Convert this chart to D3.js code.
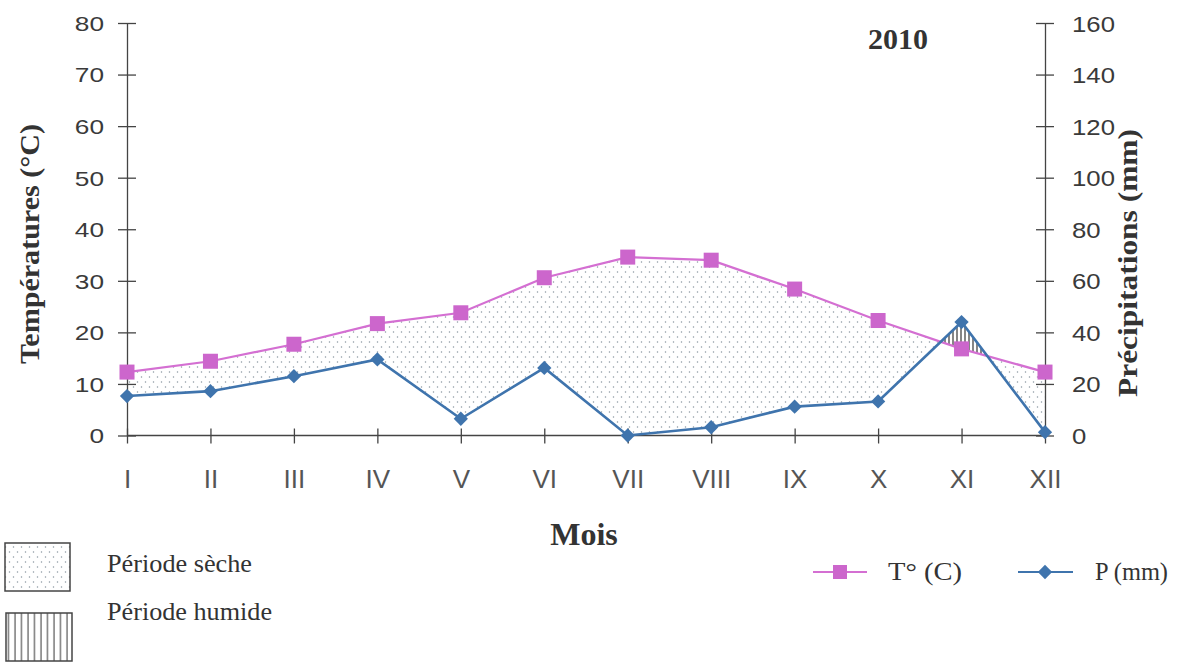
<!DOCTYPE html>
<html><head><meta charset="utf-8">
<script src="https://cdn.jsdelivr.net/npm/d3@7"></script>
<style>
html,body{margin:0;padding:0;background:#fff;}
svg{display:block;}
</style></head>
<body>
<svg id="c" width="1177" height="662"></svg>
<script>
const months = ["I","II","III","IV","V","VI","VII","VIII","IX","X","XI","XII"];
const temperature = [12.3, 14.4, 17.7, 21.7, 23.8, 30.6, 34.6, 34.0, 28.4, 22.3, 16.8, 12.3];
const precipitation = [15.3, 17.2, 23.0, 29.5, 6.5, 26.2, 0, 3.2, 11.2, 13.2, 44.0, 1.3];
const tempTicks = [0,10,20,30,40,50,60,70,80];
const precTicks = [0,20,40,60,80,100,120,140,160];

const svg = d3.select("#c");
const x = d3.scalePoint().domain(months).range([127, 1045]);
const yT = d3.scaleLinear().domain([0, 80]).range([435.5, 23]);
const yP = d3.scaleLinear().domain([0, 160]).range([435.5, 23]);

const data = months.map((m, i) => ({m, t: temperature[i], p: precipitation[i]}));

// patterns
const defs = svg.append("defs");
const dots = defs.append("pattern").attr("id","dots").attr("patternUnits","userSpaceOnUse")
  .attr("width", 8).attr("height", 10);
dots.append("circle").attr("cx",1.5).attr("cy",2).attr("r",0.75).attr("fill","#8a96a0");
dots.append("circle").attr("cx",5.5).attr("cy",7).attr("r",0.75).attr("fill","#8a96a0");
const hatch = defs.append("pattern").attr("id","hatch").attr("patternUnits","userSpaceOnUse")
  .attr("width", 6.5).attr("height", 10);
hatch.append("line").attr("x1",2).attr("x2",2).attr("y1",0).attr("y2",10).attr("stroke","#555").attr("stroke-width",1.2);
const hatchSmall = defs.append("pattern").attr("id","hatchS").attr("patternUnits","userSpaceOnUse")
  .attr("width", 4).attr("height", 10);
hatchSmall.append("line").attr("x1",1).attr("x2",1).attr("y1",0).attr("y2",10).attr("stroke","#333").attr("stroke-width",1.2);

// clip paths
const belowT = d3.area().x(d => x(d.m)).y0(yT(0)).y1(d => yT(d.t));
const aboveP = d3.area().x(d => x(d.m)).y0(yT(80)).y1(d => yP(d.p));
const belowP = d3.area().x(d => x(d.m)).y0(yT(0)).y1(d => yP(d.p));
const aboveT = d3.area().x(d => x(d.m)).y0(yT(80)).y1(d => yT(d.t));
defs.append("clipPath").attr("id","cBelowT").append("path").attr("d", belowT(data));
defs.append("clipPath").attr("id","cAboveP").append("path").attr("d", aboveP(data));
defs.append("clipPath").attr("id","cBelowP").append("path").attr("d", belowP(data));
defs.append("clipPath").attr("id","cAboveT").append("path").attr("d", aboveT(data));

svg.append("g").attr("clip-path","url(#cBelowT)")
  .append("g").attr("clip-path","url(#cAboveP)")
  .append("rect").attr("x",x("I")).attr("y",yT(80)).attr("width",x("XII")-x("I")).attr("height",yT(0)-yT(80))
  .attr("fill","url(#dots)");
svg.append("g").attr("clip-path","url(#cBelowP)")
  .append("g").attr("clip-path","url(#cAboveT)")
  .append("rect").attr("x",x("I")).attr("y",yT(80)).attr("width",x("XII")-x("I")).attr("height",yT(0)-yT(80))
  .attr("fill","url(#hatchS)");

// axes
const axisColor = "#444";
function styleAxis(g) {
  g.select(".domain").attr("stroke", axisColor).attr("stroke-width", 1.3);
  g.selectAll(".tick line").attr("stroke", axisColor).attr("stroke-width", 1.3);
  g.selectAll(".tick text").attr("fill","#3a3a3a").attr("font-family","'Liberation Sans', Arial, sans-serif");
}
const gl = svg.append("g").attr("transform",`translate(${x("I")},0)`)
  .call(d3.axisLeft(yT).tickValues(tempTicks).tickSizeOuter(0).tickSizeInner(9).tickPadding(0));
styleAxis(gl);
gl.selectAll(".tick line").attr("x1", 9).attr("x2", -9);
gl.selectAll(".tick text").attr("font-size", 21)
  .attr("transform", "scale(1.25,1)").attr("text-anchor","end").attr("dy","0.35em")
  .attr("x", -23/1.25);

const gr = svg.append("g").attr("transform",`translate(${x("XII")},0)`)
  .call(d3.axisRight(yP).tickValues(precTicks).tickSizeOuter(0).tickSizeInner(9).tickPadding(0));
styleAxis(gr);
gr.selectAll(".tick line").attr("x1", -9).attr("x2", 9);
gr.selectAll(".tick text").attr("font-size", 23).attr("transform","scale(1.12,1)")
  .attr("text-anchor","start").attr("dy","0.35em").attr("x", 27/1.12);

const gx = svg.append("g").attr("transform",`translate(0,${yT(0)})`)
  .call(d3.axisBottom(x).tickSizeOuter(0).tickSizeInner(8).tickPadding(0));
styleAxis(gx);
gx.select(".domain").attr("d", `M${x("I")},0H${x("XII")}`);
gx.selectAll(".tick line").attr("y1", -7).attr("y2", 8);
gx.selectAll(".tick text").attr("font-size", 26).attr("fill","#555").attr("dy", 0).attr("y", 52);

// lines
const tColor = "#d46fd2", tFill = "#cc66cc";
const pColor = "#3f74ad";
svg.append("path").attr("d", d3.line().x(d => x(d.m)).y(d => yT(d.t))(data))
  .attr("fill","none").attr("stroke", tColor).attr("stroke-width", 2.2);
svg.append("path").attr("d", d3.line().x(d => x(d.m)).y(d => yP(d.p))(data))
  .attr("fill","none").attr("stroke", pColor).attr("stroke-width", 2.6);

const sq = 15;
svg.append("g").selectAll("rect").data(data).join("rect")
  .attr("x", d => x(d.m) - sq/2).attr("y", d => yT(d.t) - sq/2)
  .attr("width", sq).attr("height", sq).attr("fill", tFill);
const diamond = d3.symbol().type(d3.symbolDiamond2).size(130);
svg.append("g").selectAll("path").data(data).join("path")
  .attr("transform", d => `translate(${x(d.m)},${yP(d.p)})`)
  .attr("d", diamond()).attr("fill", pColor);

// titles
const serif = "'Liberation Serif', 'Times New Roman', serif";
svg.append("text").attr("transform","translate(39,244) rotate(-90)")
  .attr("text-anchor","middle").attr("font-family", serif).attr("font-weight","bold")
  .attr("font-size", 28).attr("fill","#333").attr("textLength", 240).attr("lengthAdjust","spacingAndGlyphs")
  .text("Températures (°C)");
svg.append("text").attr("transform","translate(1137,263) rotate(-90)")
  .attr("text-anchor","middle").attr("font-family", serif).attr("font-weight","bold")
  .attr("font-size", 28).attr("fill","#333").attr("textLength", 268).attr("lengthAdjust","spacingAndGlyphs")
  .text("Précipitations (mm)");
svg.append("text").attr("x", 584).attr("y", 545).attr("text-anchor","middle")
  .attr("font-family", serif).attr("font-weight","bold").attr("font-size", 32).attr("fill","#333")
  .text("Mois");
svg.append("text").attr("x", 898).attr("y", 49).attr("text-anchor","middle")
  .attr("font-family", serif).attr("font-weight","bold").attr("font-size", 30).attr("fill","#333")
  .text("2010");

// legend: periods
svg.append("rect").attr("x", 5).attr("y", 543).attr("width", 65).attr("height", 48)
  .attr("fill","url(#dots)").attr("stroke","#444").attr("stroke-width",1.5);
svg.append("rect").attr("x", 6).attr("y", 613).attr("width", 66).attr("height", 48)
  .attr("fill","url(#hatch)").attr("stroke","#444").attr("stroke-width",1.5);
svg.append("text").attr("x", 107).attr("y", 572).attr("font-family", serif).attr("font-size", 25)
  .attr("fill","#333").attr("textLength", 145).attr("lengthAdjust","spacingAndGlyphs").text("Période sèche");
svg.append("text").attr("x", 107).attr("y", 620).attr("font-family", serif).attr("font-size", 25)
  .attr("fill","#333").attr("textLength", 165).attr("lengthAdjust","spacingAndGlyphs").text("Période humide");

// legend: series
svg.append("line").attr("x1", 813).attr("x2", 867).attr("y1", 572).attr("y2", 572)
  .attr("stroke", tColor).attr("stroke-width", 2);
svg.append("rect").attr("x", 833).attr("y", 565).attr("width", 14).attr("height", 14).attr("fill", tFill);
svg.append("text").attr("x", 888).attr("y", 580).attr("font-family", serif).attr("font-size", 25)
  .attr("fill","#333").attr("textLength", 74).attr("lengthAdjust","spacingAndGlyphs").text("T° (C)");
svg.append("line").attr("x1", 1018).attr("x2", 1073).attr("y1", 572).attr("y2", 572)
  .attr("stroke", pColor).attr("stroke-width", 2.2);
svg.append("path").attr("transform","translate(1045,572)").attr("d", diamond()).attr("fill", pColor);
svg.append("text").attr("x", 1095).attr("y", 580).attr("font-family", serif).attr("font-size", 25)
  .attr("fill","#333").attr("textLength", 73).attr("lengthAdjust","spacingAndGlyphs").text("P (mm)");
</script>
</body></html>
